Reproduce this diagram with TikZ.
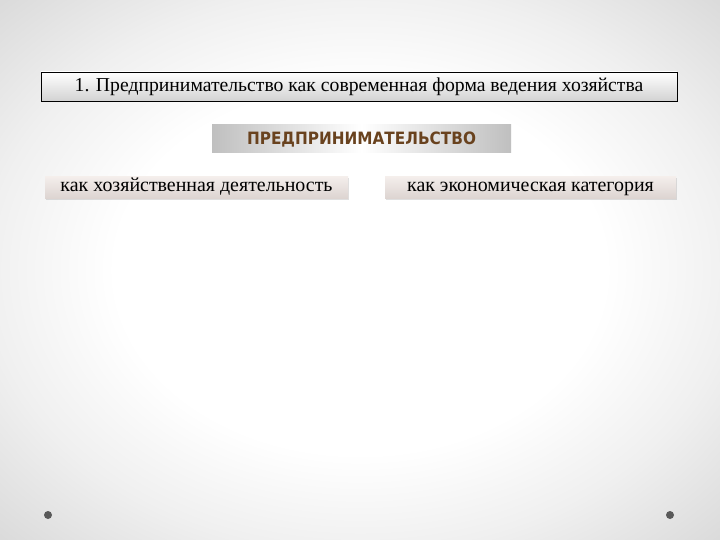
\documentclass[tikz,border=0pt]{standalone}
\usepackage{fontspec}
\setmainfont{Liberation Serif}
\newfontfamily\headfont{DejaVu Sans Condensed}
\usepackage{xcolor}
\usetikzlibrary{shadows}

\definecolor{headbrown}{RGB}{105,66,30}
\definecolor{boxpink}{RGB}{236,226,222}

\pgfdeclareradialshading{vignette}{\pgfpoint{0bp}{0bp}}{color(0bp)=(white); color(17bp)=(white);
  color(26bp)=(gray!12); color(35bp)=(gray!28); color(50bp)=(gray!32)}

\begin{document}
\begin{tikzpicture}
  [x=0.03cm, y=-0.03cm,
   titlebox/.style={draw=black, thin, minimum width=636*0.03cm, minimum height=29*0.03cm,
     inner sep=0, top color=white, bottom color=gray!35, font=\fontsize{16.8}{19}\selectfont},
   catbox/.style={minimum height=22*0.03cm, inner sep=0, text height=1.4ex, text depth=0ex,
     top color=boxpink!60!white, bottom color=boxpink!85!gray,
     drop shadow={opacity=0.25, shadow xshift=1pt, shadow yshift=-1pt},
     font=\fontsize{17}{19}\selectfont},
   dot/.style={circle, fill=gray!70!black, minimum size=8*0.03cm, inner sep=0}]

  % background
  \shade[shading=vignette] (0,0) rectangle (720,540);
  \useasboundingbox (0,0) rectangle (720,540);

  % title bar
  \node[titlebox] (title) at (359, 86.5)
    {1. Предпринимательство как современная форма ведения хозяйства};

  % heading bar
  \shade[left color=white, right color=gray!50]
    (361.5,125) rectangle (511,153);
  \shade[left color=gray!50, right color=white]
    (212,125) rectangle (361.5,153);
  \node[font=\headfont\bfseries\fontsize{14.5}{16}\selectfont, text=headbrown] (head) at (361.5, 139.5)
    {ПРЕДПРИНИМАТЕЛЬСТВО};

  % two categories
  \node[catbox, minimum width=303*0.03cm] (left) at (196.5, 188)
    {как хозяйственная деятельность};
  \node[catbox, minimum width=291*0.03cm] (right) at (530.5, 188)
    {как экономическая категория};

  % corner dots
  \node[dot] (dotl) at (48, 515) {};
  \node[dot] (dotr) at (670, 515) {};

\end{tikzpicture}
\end{document}
